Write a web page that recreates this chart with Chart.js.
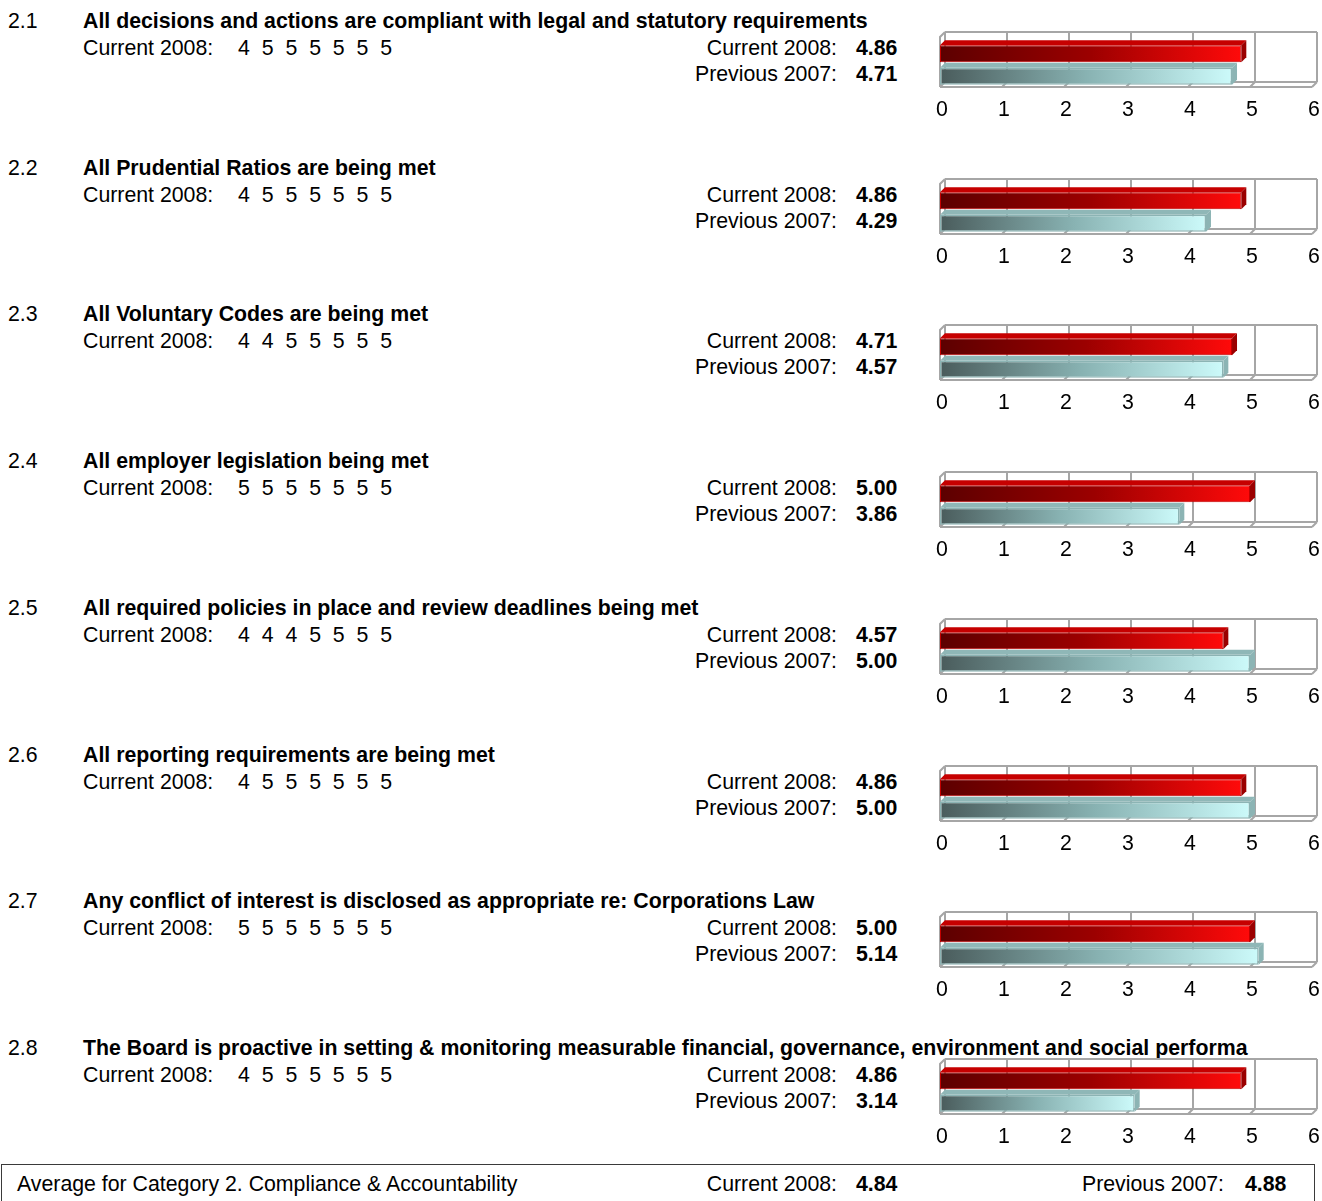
<!DOCTYPE html>
<html>
<head>
<meta charset="utf-8">
<title>Category 2. Compliance &amp; Accountability</title>
<script src="https://cdn.jsdelivr.net/npm/chart.js@4/dist/chart.umd.min.js"></script>
<style>
  html, body { margin: 0; padding: 0; background: #fff; }
  body { font-family: "Liberation Sans", Arial, sans-serif; font-size: 21.3px; color: #000; }
  #page { position: relative; width: 1322px; height: 1201px; overflow: hidden; }
  .t { position: absolute; white-space: nowrap; line-height: 24px; }
  .b { font-weight: bold; }
  .d { position: absolute; width: 20px; text-align: center; line-height: 24px; }
  .chartbox { position: absolute; left: 930px; width: 392px; height: 108px; }
  #avgbox { position: absolute; left: 1px; top: 1164px; width: 1312px; height: 60px; border: 1.5px solid #3a3a3a; }
</style>
</head>
<body>
<div id="page"></div>
<script>
// Survey items for the category
const itemNumbers = ['2.1', '2.2', '2.3', '2.4', '2.5', '2.6', '2.7', '2.8'];
const itemTitles = [
  'All decisions and actions are compliant with legal and statutory requirements',
  'All Prudential Ratios are being met',
  'All Voluntary Codes are being met',
  'All employer legislation being met',
  'All required policies in place and review deadlines being met',
  'All reporting requirements are being met',
  'Any conflict of interest is disclosed as appropriate re: Corporations Law',
  'The Board is proactive in setting & monitoring measurable financial, governance, environment and social performa'
];

// Individual responses for 2008
const scores2008 = [
  [4, 5, 5, 5, 5, 5, 5],
  [4, 5, 5, 5, 5, 5, 5],
  [4, 4, 5, 5, 5, 5, 5],
  [5, 5, 5, 5, 5, 5, 5],
  [4, 4, 4, 5, 5, 5, 5],
  [4, 5, 5, 5, 5, 5, 5],
  [5, 5, 5, 5, 5, 5, 5],
  [4, 5, 5, 5, 5, 5, 5]
];

// Mean scores per item
const current2008 = [4.86, 4.86, 4.71, 5.00, 4.57, 4.86, 5.00, 4.86];
const previous2007 = [4.71, 4.29, 4.57, 3.86, 5.00, 5.00, 5.14, 3.14];

// Axis range and category averages
const axisTicks = [0, 1, 2, 3, 4, 5, 6];
const averageLabel = 'Average for Category 2. Compliance & Accountability';
const averageCurrent = 4.84;
const averagePrevious = 4.88;

const page = document.getElementById('page');
const FONT = '"Liberation Sans", Arial, sans-serif';
const ROW_STEP = 146.7;
const DEPTH = 5;

function addText(text, opts) {
  const el = document.createElement('div');
  el.className = 't' + (opts.bold ? ' b' : '');
  el.textContent = text;
  el.style.top = opts.top + 'px';
  if (opts.right !== undefined) { el.style.right = (1322 - opts.right) + 'px'; el.style.textAlign = 'right'; }
  else el.style.left = opts.left + 'px';
  (opts.parent || page).appendChild(el);
  return el;
}

// 3D frame: back wall, floor and left edge, placed from the x scale
const frame3d = {
  id: 'frame3d',
  beforeDatasetsDraw(chart) {
    const { ctx, chartArea } = chart;
    const xs = chart.scales.x;
    const x0 = xs.getPixelForValue(axisTicks[0]);
    const xN = xs.getPixelForValue(axisTicks[axisTicks.length - 1]);
    const frontTop = chartArea.top - 5;
    const frontBottom = chartArea.bottom - 1;
    const backTop = frontTop - DEPTH;
    const backBottom = frontBottom - DEPTH;
    ctx.save();
    ctx.strokeStyle = '#a6a6a6';
    ctx.lineWidth = 2;
    ctx.beginPath();
    // back wall verticals and floor diagonals
    axisTicks.forEach(v => {
      const x = xs.getPixelForValue(v);
      ctx.moveTo(x + DEPTH, backTop);
      ctx.lineTo(x + DEPTH, backBottom);
      ctx.moveTo(x + DEPTH, backBottom);
      ctx.lineTo(x, frontBottom);
    });
    // top edge of the back wall
    ctx.moveTo(x0 + DEPTH, backTop);
    ctx.lineTo(xN + DEPTH, backTop);
    // back edge of the floor
    ctx.moveTo(x0 + DEPTH, backBottom);
    ctx.lineTo(xN + DEPTH, backBottom);
    // front edge of the floor
    ctx.moveTo(x0, frontBottom);
    ctx.lineTo(xN, frontBottom);
    // left wall
    ctx.moveTo(x0, frontBottom);
    ctx.lineTo(x0, frontTop);
    ctx.lineTo(x0 + DEPTH, backTop);
    ctx.stroke();
    ctx.restore();
  }
};

// Top and end faces of each bar
const barFaces = {
  id: 'barFaces',
  afterDatasetsDraw(chart) {
    const { ctx } = chart;
    chart.data.datasets.forEach((ds, di) => {
      const meta = chart.getDatasetMeta(di);
      meta.data.forEach(el => {
        const p = el.getProps(['x', 'y', 'base', 'height'], true);
        const top = p.y - p.height / 2;
        const bottom = p.y + p.height / 2;
        const xe = p.x, xb = p.base;
        ctx.save();
        ctx.fillStyle = ds.topFace;
        ctx.beginPath();
        ctx.moveTo(xb, top);
        ctx.lineTo(xb + DEPTH, top - DEPTH);
        ctx.lineTo(xe + DEPTH, top - DEPTH);
        ctx.lineTo(xe, top);
        ctx.closePath();
        ctx.fill();
        ctx.fillStyle = ds.sideFace;
        ctx.beginPath();
        ctx.moveTo(xe, top);
        ctx.lineTo(xe + DEPTH, top - DEPTH);
        ctx.lineTo(xe + DEPTH, bottom - DEPTH);
        ctx.lineTo(xe, bottom);
        ctx.closePath();
        ctx.fill();
        ctx.restore();
      });
    });
  }
};

function barGradient(stops, fallback) {
  return (c) => {
    const chart = c.chart;
    if (!chart.chartArea) return fallback;
    const xs = chart.scales.x;
    const x0 = xs.getPixelForValue(0);
    const x1 = xs.getPixelForValue(c.raw);
    const g = chart.ctx.createLinearGradient(x0, 0, Math.max(x1, x0 + 1), 0);
    g.addColorStop(0, stops[0]);
    g.addColorStop(0.5, stops[1]);
    g.addColorStop(1, stops[2]);
    return g;
  };
}

itemNumbers.forEach((num, i) => {
  const dy = i * ROW_STEP;
  addText(num, { left: 8, top: Math.round(9 + dy) });
  addText(itemTitles[i], { left: 83, top: Math.round(9 + dy), bold: true });
  addText('Current 2008:', { left: 83, top: Math.round(36 + dy) });
  scores2008[i].forEach((s, k) => {
    const d = document.createElement('div');
    d.className = 'd';
    d.textContent = String(s);
    d.style.left = (244 + 23.7 * k - 10).toFixed(1) + 'px';
    d.style.top = Math.round(36 + dy) + 'px';
    page.appendChild(d);
  });
  addText('Current 2008:', { right: 837, top: Math.round(36 + dy) });
  addText(current2008[i].toFixed(2), { left: 856, top: Math.round(36 + dy), bold: true });
  addText('Previous 2007:', { right: 837, top: Math.round(62 + dy) });
  addText(previous2007[i].toFixed(2), { left: 856, top: Math.round(62 + dy), bold: true });

  const box = document.createElement('div');
  box.className = 'chartbox';
  box.style.top = Math.round(20 + dy) + 'px';
  const cv = document.createElement('canvas');
  cv.width = 392; cv.height = 108;
  cv.style.width = '392px'; cv.style.height = '108px';
  box.appendChild(cv);
  page.appendChild(box);

  new Chart(cv, {
    type: 'bar',
    data: {
      labels: [num],
      datasets: [
        {
          label: 'Current 2008',
          data: [current2008[i]],
          backgroundColor: barGradient(['#5c0000', '#9c0000', '#ff0a0a'], '#b00000'),
          borderColor: '#c40000',
          borderWidth: 1,
          borderSkipped: false,
          topFace: '#c60000',
          sideFace: '#9a0000',
          barPercentage: 0.76,
          categoryPercentage: 0.98
        },
        {
          label: 'Previous 2007',
          data: [previous2007[i]],
          backgroundColor: barGradient(['#4a5c5c', '#88b2b2', '#ccfafa'], '#8cb4b4'),
          borderColor: '#8cb4b4',
          borderWidth: 1.5,
          borderSkipped: false,
          topFace: '#8fb7b7',
          sideFace: '#8cb4b4',
          barPercentage: 0.76,
          categoryPercentage: 0.98
        }
      ]
    },
    options: {
      indexAxis: 'y',
      responsive: false,
      animation: false,
      events: [],
      layout: { padding: { left: 10, right: 10, top: 22, bottom: 0 } },
      plugins: { legend: { display: false }, tooltip: { enabled: false } },
      scales: {
        x: {
          type: 'linear',
          min: axisTicks[0],
          max: axisTicks[axisTicks.length - 1],
          afterBuildTicks: (s) => { s.ticks = axisTicks.map(v => ({ value: v })); },
          afterFit: (s) => { s.height = 40; s.paddingLeft = 0; s.paddingRight = 0; },
          ticks: { color: '#000', padding: 9, labelOffset: 2, font: { family: FONT, size: 21.3 }, maxRotation: 0, autoSkip: false },
          grid: { display: false, drawTicks: false },
          border: { display: false }
        },
        y: { display: false }
      }
    },
    plugins: [frame3d, barFaces]
  });
});

// Category average box
const avg = document.createElement('div');
avg.id = 'avgbox';
page.appendChild(avg);
addText(averageLabel, { left: 17, top: 1172 });
addText('Current 2008:', { right: 837, top: 1172 });
addText(averageCurrent.toFixed(2), { left: 856, top: 1172, bold: true });
addText('Previous 2007:', { right: 1224, top: 1172 });
addText(averagePrevious.toFixed(2), { left: 1245, top: 1172, bold: true });
</script>
</body>
</html>
